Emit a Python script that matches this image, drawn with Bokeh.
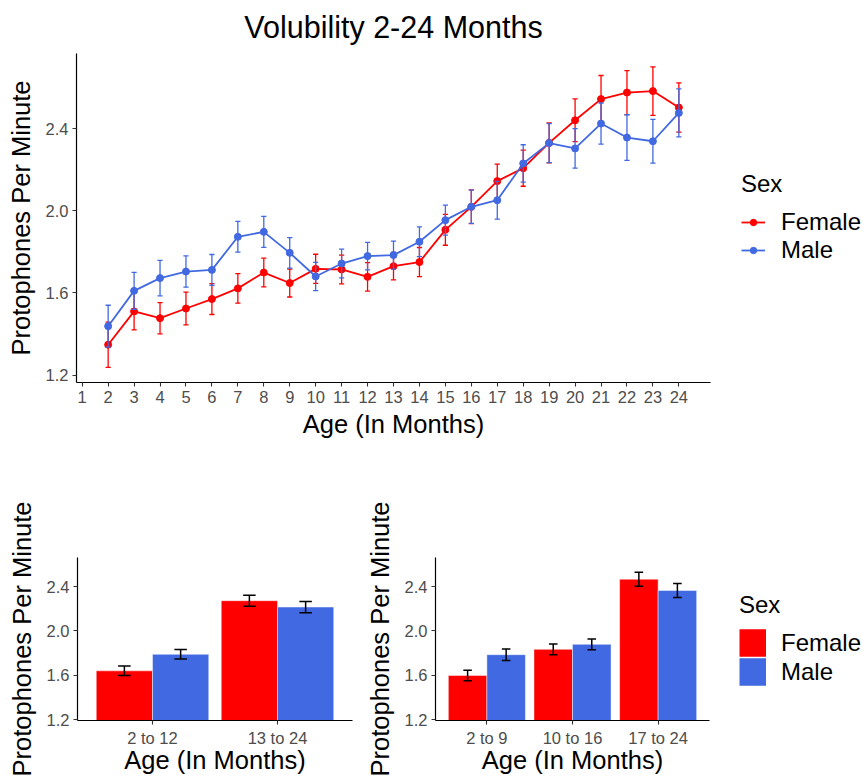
import numpy as np
from bokeh.plotting import figure
from bokeh.models import Range1d, FixedTicker, Legend, LegendItem
from bokeh.layouts import column, row
from bokeh.embed import file_html
from bokeh.resources import INLINE

# ---------------- data ----------------
months = list(range(2, 25))
female_mean = [1.348, 1.510, 1.477, 1.524, 1.570, 1.622, 1.699, 1.648, 1.717, 1.714, 1.678, 1.730,
               1.750, 1.907, 2.019, 2.144, 2.207, 2.330, 2.440, 2.543, 2.575, 2.582, 2.502]
female_se = [0.110, 0.090, 0.076, 0.080, 0.075, 0.072, 0.070, 0.068, 0.071, 0.070, 0.069, 0.067,
             0.071, 0.075, 0.082, 0.083, 0.088, 0.097, 0.104, 0.115, 0.107, 0.118, 0.120]
male_mean = [1.438, 1.610, 1.672, 1.704, 1.712, 1.873, 1.897, 1.795, 1.680, 1.743, 1.779, 1.784,
             1.849, 1.954, 2.019, 2.051, 2.230, 2.329, 2.303, 2.424, 2.356, 2.338, 2.476]
male_se = [0.102, 0.090, 0.086, 0.076, 0.075, 0.075, 0.075, 0.074, 0.069, 0.070, 0.067, 0.068,
           0.072, 0.073, 0.081, 0.092, 0.091, 0.095, 0.096, 0.100, 0.111, 0.106, 0.117]
month_ticks = list(range(1, 25))

groups2 = ["2 to 12", "13 to 24"]
female2 = [1.639, 2.272]
female2_se = [0.043, 0.049]
male2 = [1.788, 2.215]
male2_se = [0.043, 0.051]

groups3 = ["2 to 9", "10 to 16", "17 to 24"]
female3 = [1.597, 1.833, 2.466]
female3_se = [0.048, 0.048, 0.064]
male3 = [1.785, 1.878, 2.364]
male3_se = [0.052, 0.048, 0.063]

y_ticks = [1.2, 1.6, 2.0, 2.4]
sexes = ["Female", "Male"]

RED = "#FF0000"
BLUE = "#4169E1"
COLORS = [RED, BLUE]
FONT = "Liberation Sans"


def style(p, xlabel, ylabel, xlab_standoff=4):
    p.xgrid.visible = False
    p.ygrid.visible = False
    p.outline_line_color = None
    p.background_fill_color = "white"
    p.border_fill_color = "white"
    for ax in (p.xaxis[0], p.yaxis[0]):
        ax.axis_line_color = "black"
        ax.axis_line_width = 1.2
        ax.major_tick_line_color = "#333333"
        ax.major_tick_line_width = 1.1
        ax.major_tick_out = 4
        ax.major_tick_in = 0
        ax.minor_tick_out = 0
        ax.minor_tick_in = 0
        ax.major_label_text_font = FONT
        ax.major_label_text_font_size = "16.5px"
        ax.major_label_text_color = "#4D4D4D"
        ax.major_label_standoff = 4
        ax.axis_label_text_font = FONT
        ax.axis_label_text_font_size = "25.5px"
        ax.axis_label_text_font_style = "normal"
        ax.axis_label_text_color = "black"
    p.xaxis.axis_label = xlabel
    p.yaxis.axis_label = ylabel
    p.xaxis.axis_label_standoff = xlab_standoff
    p.yaxis.axis_label_standoff = 8
    p.yaxis.ticker = FixedTicker(ticks=y_ticks)
    p.yaxis.major_label_overrides = {t: f"{t:.1f}" for t in y_ticks}


def legend_figure(width, height, kind, loc):
    # a blank plot that only carries the "Sex" legend; its swatch glyphs lie outside its view
    lf = figure(width=width, height=height, output_backend="svg", toolbar_location=None,
                x_range=Range1d(0, 1), y_range=Range1d(0, 1), x_axis_type=None, y_axis_type=None,
                min_border=0, min_border_left=0, min_border_right=0, min_border_top=0,
                min_border_bottom=0)
    lf.outline_line_color = None
    lf.xgrid.visible = False
    lf.ygrid.visible = False
    items = []
    for name, col in zip(sexes, COLORS):
        if kind == "line":
            r1 = lf.line(x=[-5, -4], y=[-5, -5], line_color=col, line_width=1.8)
            r2 = lf.scatter(x=[-5], y=[-5], fill_color=col, line_color=col)
            items.append(LegendItem(label=name, renderers=[r1, r2]))
        else:
            r = lf.line(x=[-5, -4], y=[-5, -5], line_color=col, line_width=27.5, line_cap="butt")
            items.append(LegendItem(label=name, renderers=[r]))
    if kind == "line":
        gw, gh, lh, sp, so, ts = 24, 16, 28, 0, 16, 10
    else:
        gw, gh, lh, sp, so, ts = 27, 29, 29, 0, 15, 9
    leg = Legend(items=items, title="Sex", location=loc, orientation="vertical",
                 glyph_width=gw, glyph_height=gh, label_height=lh, spacing=sp,
                 label_standoff=so, padding=0, margin=0, border_line_color=None,
                 background_fill_alpha=0,
                 label_text_font=FONT, label_text_font_size="24px", label_text_color="black",
                 title_text_font=FONT, title_text_font_size="24px", title_text_color="black",
                 title_text_font_style="normal", title_standoff=ts)
    lf.add_layout(leg, "center")
    return lf


# ---------------- top panel ----------------
top = figure(width=712, height=446, output_backend="svg", toolbar_location=None,
             x_range=Range1d(0.78, 25.22), y_range=Range1d(1.164, 2.765),
             min_border_left=76, min_border_right=2, min_border_top=53, min_border_bottom=64,
             title="Volubility 2-24 Months")
style(top, "Age (In Months)", "Protophones Per Minute")
top.xaxis.ticker = FixedTicker(ticks=month_ticks)
top.title.align = "center"
top.title.vertical_align = "top"
top.title.text_font = FONT
top.title.text_font_size = "30.5px"
top.title.text_font_style = "normal"
top.title.text_color = "black"
top.title.standoff = 16

x = np.array(months, dtype=float)
cap = 0.1
for mean, se, col in ((female_mean, female_se, RED), (male_mean, male_se, BLUE)):
    m = np.array(mean)
    s = np.array(se)
    top.line(x, m, line_color=col, line_width=1.8)
    top.segment(x, m - s, x, m + s, line_color=col, line_width=1.3)
    top.segment(x - cap, m + s, x + cap, m + s, line_color=col, line_width=1.3)
    top.segment(x - cap, m - s, x + cap, m - s, line_color=col, line_width=1.3)
    top.scatter(x, m, size=7, fill_color=col, line_color=col)

leg_top = legend_figure(150, 446, "line", (29, 118))


# ---------------- bottom panels ----------------
def bar_panel(groups, fm, fse, mm, mse, width, left, right):
    n = len(groups)
    p = figure(width=width, height=330, output_backend="svg", toolbar_location=None,
               x_range=Range1d(0.4, n + 0.6), y_range=Range1d(1.191, 2.662),
               min_border_left=left, min_border_right=right, min_border_top=111, min_border_bottom=55)
    style(p, "Age (In Months)", "Protophones Per Minute", xlab_standoff=-4)
    centers = np.arange(1, n + 1, dtype=float)
    p.xaxis.ticker = FixedTicker(ticks=list(centers))
    p.xaxis.major_label_overrides = {int(c): g for c, g in zip(centers, groups)}
    bw = 0.45
    for off, mean, se, col in ((-bw / 2, fm, fse, RED), (bw / 2, mm, mse, BLUE)):
        xs = centers + off
        m = np.array(mean)
        s = np.array(se)
        p.vbar(x=xs, top=m, bottom=0, width=bw, fill_color=col,
               line_color="white", line_alpha=0.45, line_width=1)
        c = 0.05
        p.segment(xs, m - s, xs, m + s, line_color="black", line_width=1.5)
        p.segment(xs - c, m + s, xs + c, m + s, line_color="black", line_width=1.5)
        p.segment(xs - c, m - s, xs + c, m - s, line_color="black", line_width=1.5)
    return p


pa = bar_panel(groups2, female2, female2_se, male2, male2_se, 362, 77, 10)
pb = bar_panel(groups3, female3, female3_se, male3, male3_se, 349, 71, 2)
leg_bot = legend_figure(151, 330, "bar", (28, 34))

layout = column(row(top, leg_top, spacing=0), row(pa, pb, leg_bot, spacing=0), spacing=0)
open("out.html", "w").write(file_html(layout, INLINE))
